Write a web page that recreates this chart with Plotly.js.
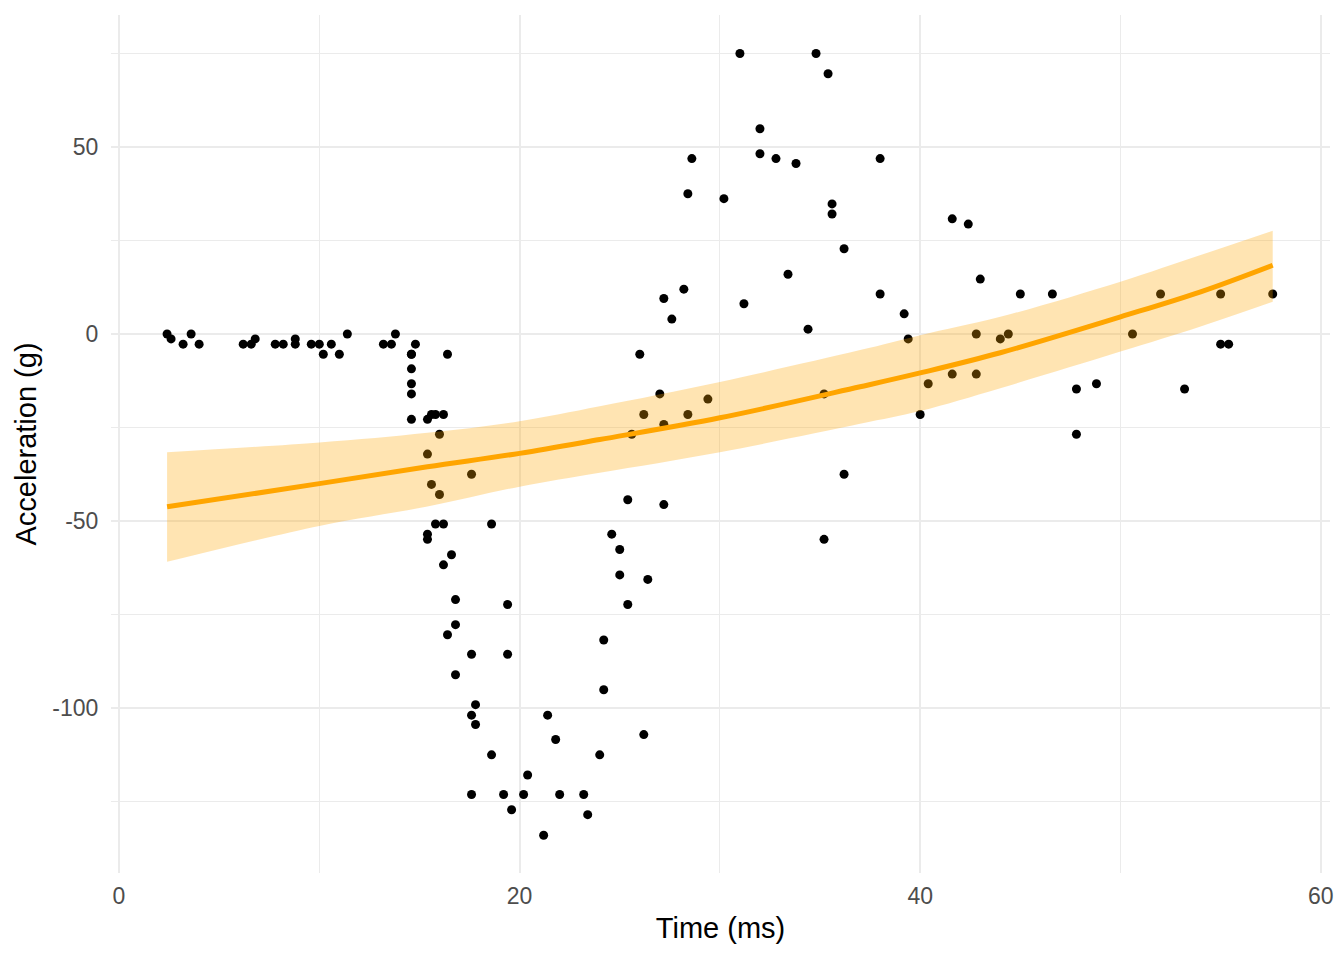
<!DOCTYPE html>
<html>
<head>
<meta charset="utf-8">
<script src="https://cdn.plot.ly/plotly-3.0.1.min.js"></script>
<style>
  html, body { margin: 0; padding: 0; background: #ffffff; }
  #chart { width: 1344px; height: 960px; }
</style>
</head>
<body>
<div id="chart"></div>
<script>
// mcycle data: time (ms) and head acceleration (g)
const times = [2.4, 2.6, 3.2, 3.6, 4.0, 6.2, 6.6, 6.8, 7.8, 8.2, 8.8, 8.8, 9.6, 10.0, 10.2, 10.6, 11.0, 11.4, 13.2, 13.6, 13.8,
  14.6, 14.6, 14.6, 14.6, 14.6, 14.6, 14.8, 15.4, 15.4, 15.4, 15.4, 15.6, 15.6, 15.8, 15.8, 16.0, 16.0, 16.2, 16.2, 16.2,
  16.4, 16.4, 16.6, 16.8, 16.8, 16.8, 17.6, 17.6, 17.6, 17.6, 17.8, 17.8, 18.6, 18.6, 19.2, 19.4, 19.4, 19.6, 20.2, 20.4,
  21.2, 21.4, 21.8, 22.0, 23.2, 23.4, 24.0, 24.2, 24.2, 24.6, 25.0, 25.0, 25.4, 25.4, 25.6, 26.0, 26.2, 26.2, 26.4, 27.0,
  27.2, 27.2, 27.2, 27.6, 28.2, 28.4, 28.4, 28.6, 29.4, 30.2, 31.0, 31.2, 32.0, 32.0, 32.8, 33.4, 33.8, 34.4, 34.8, 35.2,
  35.2, 35.4, 35.6, 35.6, 36.2, 36.2, 38.0, 38.0, 39.2, 39.4, 40.0, 40.4, 41.6, 41.6, 42.4, 42.8, 42.8, 43.0, 44.0, 44.4,
  45.0, 46.6, 47.8, 47.8, 48.8, 50.6, 52.0, 53.2, 55.0, 55.0, 55.4, 57.6];
const accel = [0.0, -1.3, -2.7, 0.0, -2.7, -2.7, -2.7, -1.3, -2.7, -2.7, -1.3, -2.7, -2.7, -2.7, -5.4, -2.7, -5.4, 0.0, -2.7, -2.7, 0.0,
  -13.3, -5.4, -5.4, -9.3, -16.0, -22.8, -2.7, -22.8, -32.1, -53.5, -54.9, -40.2, -21.5, -21.5, -50.8, -42.9, -26.8, -21.5, -50.8, -61.7,
  -5.4, -80.4, -59.0, -71.0, -91.1, -77.7, -37.5, -85.6, -123.1, -101.9, -99.1, -104.4, -112.5, -50.8, -123.1, -85.6, -72.3, -127.2, -123.1, -117.9,
  -134.0, -101.9, -108.4, -123.1, -123.1, -128.5, -112.5, -95.1, -81.8, -53.5, -64.4, -57.6, -72.3, -44.3, -26.8, -5.4, -107.1, -21.5, -65.6, -16.0,
  -45.6, -24.2, 9.5, 4.0, 12.0, -21.5, 37.5, 46.9, -17.4, 36.2, 75.0, 8.1, 54.9, 48.2, 46.9, 16.0, 45.6, 1.3, 75.0, -16.0,
  -54.9, 69.6, 34.8, 32.1, -37.5, 22.8, 46.9, 10.7, 5.4, -1.3, -21.5, -13.3, 30.8, -10.7, 29.4, 0.0, -10.7, 14.7, -1.3, 0.0,
  10.7, 10.7, -26.8, -14.7, -13.3, 0.0, 10.7, -14.7, -2.7, 10.7, -2.7, 10.7];

// Smooth fit and its confidence band
const fitX     = [2.4,   10.0,  15.4,  20.0,  24.0,  30.0,  37.0,  40.0,  44.0,  50.0, 54.0, 57.6];
const fitY     = [-46.2, -40.0, -35.5, -31.9, -28.2, -22.4, -14.1, -10.4, -5.0,  4.6,  11.3, 18.4];
const fitUpper = [-31.6, -29.0, -26.4, -23.3, -19.3, -12.8, -4.3,  -0.3,  4.6,   14.0, 21.1, 27.6];
const fitLower = [-60.9, -51.3, -46.1, -40.8, -37.1, -31.6, -24.0, -20.6, -14.5, -4.7, 2.0,  8.6];

const xTicks = [0, 20, 40, 60];
const yTicks = [-100, -50, 0, 50];
const yTickText = ['-100', '-50', '0', '50'];

const bandFill = 'rgba(255,165,0,0.3)';
const grid = '#EBEBEB';

const traces = [
  {
    x: times, y: accel, type: 'scatter', mode: 'markers',
    marker: { color: '#000000', size: 9 },
    hoverinfo: 'x+y', showlegend: false
  },
  {
    x: fitX, y: fitLower, type: 'scatter', mode: 'lines',
    line: { width: 0, color: 'rgba(0,0,0,0)', shape: 'spline', smoothing: 1 },
    hoverinfo: 'skip', showlegend: false
  },
  {
    x: fitX, y: fitUpper, type: 'scatter', mode: 'lines',
    line: { width: 0, color: 'rgba(0,0,0,0)', shape: 'spline', smoothing: 1 },
    fill: 'tonexty', fillcolor: bandFill,
    hoverinfo: 'skip', showlegend: false
  },
  {
    x: fitX, y: fitY, type: 'scatter', mode: 'lines',
    line: { width: 5, color: '#FFA500', shape: 'spline', smoothing: 1 },
    hoverinfo: 'x+y', showlegend: false
  }
];

const tickFont = { family: 'Liberation Sans, Arial, sans-serif', size: 23, color: '#4D4D4D' };
const titleFont = { family: 'Liberation Sans, Arial, sans-serif', size: 29, color: '#000000' };

const layout = {
  width: 1344, height: 960,
  margin: { l: 111, r: 14, t: 15, b: 87, pad: 0 },
  paper_bgcolor: '#ffffff', plot_bgcolor: '#ffffff',
  showlegend: false,
  xaxis: {
    range: [-0.4, 60.46], autorange: false,
    tickmode: 'array', tickvals: xTicks, ticktext: xTicks.map(String),
    ticks: 'outside', ticklen: 2, tickcolor: 'rgba(0,0,0,0)',
    tickfont: tickFont,
    showgrid: true, gridcolor: grid, gridwidth: 2,
    minor: { dtick: 10, tick0: 0, showgrid: true, gridcolor: grid, gridwidth: 1, ticks: '' },
    zeroline: false, showline: false, automargin: false,
    title: { text: 'Time (ms)', font: titleFont, standoff: 10 }
  },
  yaxis: {
    range: [-144.1, 85.3], autorange: false,
    tickmode: 'array', tickvals: yTicks, ticktext: yTickText,
    ticks: 'outside', ticklen: 7, tickcolor: 'rgba(0,0,0,0)',
    tickfont: tickFont,
    showgrid: true, gridcolor: grid, gridwidth: 2,
    minor: { dtick: 25, tick0: 0, showgrid: true, gridcolor: grid, gridwidth: 1, ticks: '' },
    zeroline: false, showline: false, automargin: false,
    title: { text: 'Acceleration (g)', font: titleFont, standoff: 7 }
  }
};

Plotly.newPlot('chart', traces, layout, { displayModeBar: false, staticPlot: true });
</script>
</body>
</html>
